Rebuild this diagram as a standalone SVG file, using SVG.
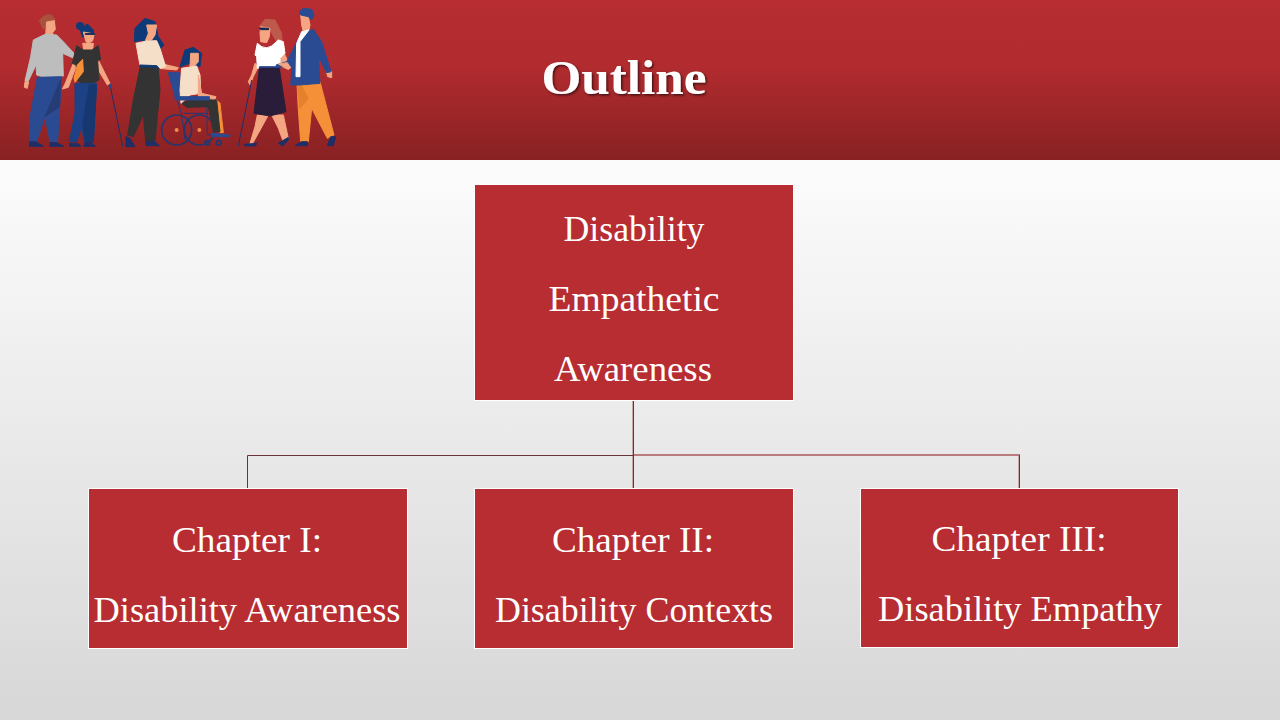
<svg xmlns="http://www.w3.org/2000/svg" width="1280" height="720" viewBox="0 0 1280 720">
<defs>
<linearGradient id="pageFill" x1="0" y1="0" x2="0" y2="1"><stop offset="0" stop-color="#fcfcfc"/><stop offset="1" stop-color="#d7d7d7"/></linearGradient>
<linearGradient id="bannerFill" x1="0" y1="0" x2="0" y2="1"><stop offset="0" stop-color="#b72d31"/><stop offset="0.42" stop-color="#b12b2f"/><stop offset="1" stop-color="#882122"/></linearGradient>
<filter id="titleShadow" x="-10%" y="-20%" width="120%" height="140%"><feDropShadow dx="1.5" dy="1.5" stdDeviation="0.8" flood-color="#000" flood-opacity="0.6"/></filter>
</defs>
<style>
.box{fill:#b72d31;stroke:#fff;stroke-width:1}
.label{font-family:"Liberation Serif","DejaVu Serif",serif;font-size:35px;fill:#fff;text-anchor:middle}
.title{font-family:"Liberation Serif","DejaVu Serif",serif;font-weight:bold;font-size:48px;fill:#fff;text-anchor:middle;filter:url(#titleShadow)}
.wire{fill:none;stroke:#6b3238;stroke-width:1}
.wire-pale{fill:none;stroke:#c9a6a8;stroke-width:1}
.wire-soft{fill:none;stroke:#bb7c80;stroke-width:2}
#people path{stroke-width:3;stroke-linejoin:round}
.skin{fill:#f4a683;stroke:#f4a683}.navy{fill:#1f2f66;stroke:#1f2f66}.blue{fill:#2a4a92;stroke:#2a4a92}.blue2{fill:#263c76;stroke:#263c76}.deep{fill:#1c4184;stroke:#1c4184}.deep2{fill:#173770;stroke:#173770}
.dark{fill:#333333;stroke:#333333}.cream{fill:#f6dfc8;stroke:#f6dfc8}.ink{fill:#0f3a78;stroke:#0f3a78}.orange{fill:#f59038;stroke:#f59038}.orange2{fill:#e5802d;stroke:#e5802d}
.grey{fill:#bdbdbd;stroke:#bdbdbd}.white{fill:#fff;stroke:#fff}.plum{fill:#2a1d3a;stroke:#2a1d3a}.hair1{fill:#a9503f;stroke:#a9503f}.hair2{fill:#bd5a4c;stroke:#bd5a4c}
.glass{fill:#14244f;stroke:#14244f}
.frame{fill:none;stroke:#25366f;stroke-width:5}
.cane{fill:none;stroke:#1f2f66;stroke-width:4}
</style>

<rect width="1280" height="720" fill="#d7d7d7"/>
<rect y="160" width="1280" height="560" fill="url(#pageFill)"/>
<rect width="1280" height="160" fill="url(#bannerFill)"/>

<!-- Group of people along the left of the banner, drawn at triple size and scaled down -->
<g id="people">
<g transform="scale(0.33333)">
<!-- man in grey sweater -->
<path class="hair1" d="M118 62Q130 43 150 44Q164 48 165 65L140 75L130 88Z"/>
<path class="skin" d="M140 66L163 62L166 88L158 98L160 108H137L138 90Z"/>
<path class="grey" d="M100 120L135 103L170 105L190 125L222 160V175L188 160L190 228L140 235L110 225L108 195L85 243H75L92 170Z"/>
<path class="skin" d="M75 245H86L82 265L73 262Z"/>
<path class="blue" d="M112 232L185 230L178 340L173 425H150L135 350L110 425H88L92 340Z"/>
<path class="blue2" d="M135 350L182 240L178 320Z"/>
<path class="navy" d="M88 425H108L130 439H88ZM150 428H170L192 439H150Z"/>
<!-- woman with cane -->
<circle cx="240" cy="78" r="12" fill="#0f3a78"/>
<path class="ink" d="M240 88L262 72L280 90L282 112L262 105L248 112Z"/>
<path class="skin" d="M250 96L283 102L278 122L266 130L258 125Z"/>
<path class="glass" d="M256 101H284V103H256Z"/>
<path class="skin" d="M248 130H280L278 152H252Z"/>
<path class="skin" d="M220 190L230 195L205 262L187 267L195 252ZM295 180L330 250L322 255L292 205Z"/>
<path class="dark" d="M230 137L250 150H275L295 137L302 178L293 182L297 240L270 255L235 245L228 195L217 190Z"/>
<path class="orange" d="M248 178L250 215L225 247L222 235L232 195Z"/>
<path class="deep" d="M225 250L290 250L285 340L280 425H252L245 380L230 425H208L225 340Z"/>
<path class="deep2" d="M268 255H290L285 340L280 425H256L248 372Z"/>
<path class="navy" d="M210 430H232L243 439H208ZM254 428H274L287 439H252Z"/>
<path class="cane" d="M330 255L368 438"/>
<path class="blue" d="M328 253H334V263H328Z"/>
<!-- woman pushing the wheelchair -->
<path class="ink" d="M403 125L405 85L435 55L465 65L475 110L492 135L480 148L462 120L420 122Z"/>
<path class="skin" d="M440 75L470 75L465 105L455 120L436 122L445 100Z"/>
<path class="skin" d="M480 190L535 203L530 210L475 205Z"/>
<path class="cream" d="M408 130L440 123L470 122L480 145L497 200L480 205L470 195L420 195Z"/>
<path class="ink" d="M420 195L470 197L478 206L420 204Z"/>
<path class="dark" d="M420 203L475 205L480 270L470 370L465 425H437L430 345L400 410L383 405L400 300Z"/>
<path class="navy" d="M378 410L390 415L405 440H378ZM438 425H465L478 437H438Z"/>
</g>

<g transform="translate(170 0) scale(0.33333)">
<!-- wheelchair and seated woman -->
<path class="blue" d="M-5 218H30L32 290L15 290Z"/>
<circle cx="20" cy="390" r="45" class="frame"/>
<circle cx="88" cy="390" r="45" class="frame"/>
<path class="frame" d="M20 292L35 345L45 420M110 300L112 405H175M40 340H115"/>
<circle cx="20" cy="390" r="6" fill="#f08a4a"/><circle cx="88" cy="390" r="6" fill="#f08a4a"/>
<path class="orange" d="M135 295L150 310L160 398H150Z"/>
<path class="dark" d="M35 310L60 300L118 295L140 300L150 395H130L115 320L50 322Z"/>
<path class="ink" d="M30 200L45 150L70 142L95 160L90 200L60 190Z"/>
<path class="skin" d="M62 160L85 160L85 185L72 200L60 200Z"/>
<path class="cream" d="M35 205L80 198L90 225L92 280L60 285L33 310L30 270Z"/>
<path class="skin" d="M85 225L95 280L138 290L135 297L85 295Z"/>
<path class="blue" d="M15 290H118V300H15Z"/>
<path class="blue" d="M125 400L180 405V410H125Z"/>
<circle cx="112" cy="428" r="7" class="frame"/>
<circle cx="146" cy="428" r="7" class="frame"/>
<!-- woman in white top with cane -->
<path class="hair2" d="M268 80L285 58L315 60L335 100L337 160L320 125L300 90Z"/>
<path class="skin" d="M272 80L300 85L298 110L290 128L272 125L270 100Z"/>
<path class="glass" d="M268 84L296 85V89H272Z"/>
<path class="skin" d="M265 200L250 230L240 255L235 245L245 225L255 190ZM340 155L352 180L365 200L355 208L325 195L320 190Z"/>
<path class="white" d="M262 130L275 140Q290 148 305 138L325 120L340 125L345 160L330 175L330 200L262 205L260 170L255 165Z"/>
<path class="blue" d="M268 200H330V208H268Z"/>
<path class="skin" d="M262 345H295L265 400L248 430H240L255 380ZM305 345H340L355 415L340 425L325 385Z"/>
<path class="plum" d="M268 205L328 205L348 335L300 348L252 340Z"/>
<path class="navy" d="M222 433L262 430L255 438H225ZM325 430L355 412V420L338 438Z"/>
<path class="cane" d="M245 240L205 438"/>
<!-- man in blue jacket and orange trousers -->
<path class="skin" d="M392 45L415 50L420 75L417 90L400 95L395 75Z"/>
<path class="blue" d="M388 35L400 25L425 28L432 45L425 60L415 50L392 45Z"/>
<path class="orange" d="M380 232L400 255L450 245L492 405L472 415L425 325L415 425H392L385 330Z"/>
<path class="orange2" d="M380 232L415 295L390 325Z"/>
<path class="skin" d="M470 218L485 215L485 233L473 230Z"/>
<path class="blue" d="M350 185L395 98L430 88L455 125L483 215L470 218L445 170L450 250L390 255L362 255L366 200L320 200L318 195Z"/>
<path class="white" d="M395 95L417 90L390 125L390 230H378L380 130Z"/>
<path class="skin" d="M325 192L352 188L362 203L355 208Z"/>
<path class="navy" d="M375 437L395 425H412V437ZM472 437L482 410H497L490 437Z"/>
</g>
</g>

<text class="title" x="624" y="94" textLength="165" lengthAdjust="spacingAndGlyphs">Outline</text>

<g id="connectors">
<path class="wire-pale" d="M632.500 401V488"/>
<path class="wire" d="M633.500 401V488"/>
<path class="wire" d="M633 455.500H247.500V488"/>
<path class="wire-soft" d="M634 455H1020"/>
<path class="wire-pale" d="M1018.500 456V488"/>
<path class="wire" d="M1019.500 455V488"/>
</g>

<g id="root">
<rect class="box" x="474.500" y="184.500" width="319" height="216"/>
<text class="label" x="634" y="241" textLength="141" lengthAdjust="spacingAndGlyphs">Disability</text>
<text class="label" x="634" y="311" textLength="171" lengthAdjust="spacingAndGlyphs">Empathetic</text>
<text class="label" x="633" y="381" textLength="158" lengthAdjust="spacingAndGlyphs">Awareness</text>
</g>
<g id="chapter-1">
<rect class="box" x="88.500" y="488.500" width="319" height="160"/>
<text class="label" x="247" y="552" textLength="150" lengthAdjust="spacingAndGlyphs">Chapter I:</text>
<text class="label" x="247" y="622" textLength="307" lengthAdjust="spacingAndGlyphs">Disability Awareness</text>
</g>
<g id="chapter-2">
<rect class="box" x="474.500" y="488.500" width="319" height="160"/>
<text class="label" x="633" y="552" textLength="162" lengthAdjust="spacingAndGlyphs">Chapter II:</text>
<text class="label" x="634" y="622" textLength="278" lengthAdjust="spacingAndGlyphs">Disability Contexts</text>
</g>
<g id="chapter-3">
<rect class="box" x="860.500" y="488.500" width="318" height="159"/>
<text class="label" x="1019" y="551" textLength="175" lengthAdjust="spacingAndGlyphs">Chapter III:</text>
<text class="label" x="1020" y="621" textLength="284" lengthAdjust="spacingAndGlyphs">Disability Empathy</text>
</g>
</svg>
